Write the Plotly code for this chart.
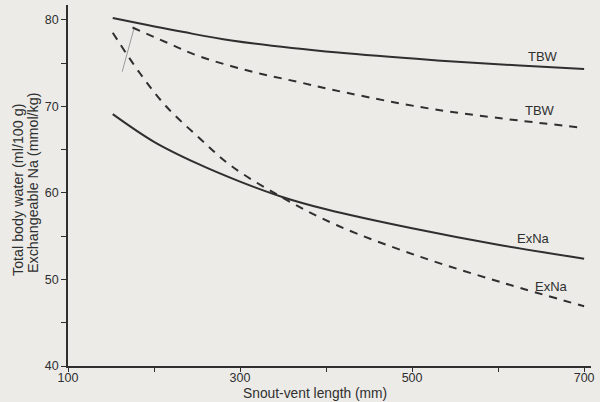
import plotly.graph_objects as go

# Data
tbw_solid_x = [152, 233, 290, 414, 529, 625, 700]
tbw_solid_y = [80.2, 78.6, 77.6, 76.2, 75.3, 74.7, 74.3]

tbw_dash_x = [175, 214, 252, 310, 368, 422, 529, 700]
tbw_dash_y = [79.1, 77.4, 75.8, 74.1, 72.8, 71.6, 69.6, 67.5]

exna_solid_x = [152, 200, 250, 300, 350, 400, 500, 600, 700]
exna_solid_y = [69.1, 65.9, 63.4, 61.3, 59.5, 58.1, 55.9, 54.0, 52.4]

exna_dash_x = [152, 183, 214, 252, 290, 352, 414, 510, 606, 700]
exna_dash_y = [78.5, 73.9, 70.0, 66.4, 63.1, 59.3, 56.2, 52.6, 49.6, 46.9]

mark_x = [163, 177]
mark_y = [74.0, 79.1]

label_text = ["TBW", "TBW", "ExNa", "ExNa"]
label_x = [652, 649, 641, 662]
label_y = [75.7, 69.5, 54.7, 49.2]

y_title_lines = ["Total body water (ml/100 g)", "Exchangeable Na (mmol/kg)"]
x_title = "Snout-vent length (mm)"

x_tickvals = [100, 200, 300, 400, 500, 600, 700]
x_ticktext = ["100", "", "300", "", "500", "", "700"]
y_tickvals = [40, 45, 50, 55, 60, 65, 70, 75, 80]
y_ticktext = ["40", "", "50", "", "60", "", "70", "", "80"]

ink = "#2f2f2f"
font = "Liberation Sans, Arial, sans-serif"

fig = go.Figure()
fig.add_trace(go.Scatter(x=mark_x, y=mark_y, mode="lines",
                         line=dict(color="#9a9a9a", width=1), hoverinfo="skip"))
fig.add_trace(go.Scatter(x=tbw_solid_x, y=tbw_solid_y, mode="lines",
                         line=dict(color=ink, width=2, shape="spline")))
fig.add_trace(go.Scatter(x=tbw_dash_x, y=tbw_dash_y, mode="lines",
                         line=dict(color=ink, width=2, dash="8px,7px", shape="spline")))
fig.add_trace(go.Scatter(x=exna_solid_x, y=exna_solid_y, mode="lines",
                         line=dict(color=ink, width=2, shape="spline")))
fig.add_trace(go.Scatter(x=exna_dash_x, y=exna_dash_y, mode="lines",
                         line=dict(color=ink, width=2, dash="8px,7px", shape="spline")))

for t, x, y in zip(label_text, label_x, label_y):
    fig.add_annotation(x=x, y=y, text=t, showarrow=False,
                       font=dict(family=font, size=13, color=ink))

for txt, xs, yc in zip(y_title_lines, [-50, -35], [0.4875, 0.507]):
    fig.add_annotation(xref="paper", yref="paper", x=0, y=yc, xshift=xs,
                       xanchor="center", yanchor="middle",
                       text=txt, textangle=-90, showarrow=False,
                       font=dict(family=font, size=14.3, color=ink))
fig.add_annotation(xref="paper", yref="paper", x=0.472, y=0, yshift=-27,
                   xanchor="center", yanchor="middle",
                   text=x_title, showarrow=False,
                   font=dict(family=font, size=13.8, color=ink))

fig.update_layout(
    width=600, height=402,
    margin=dict(l=68, r=5, t=5, b=36),
    paper_bgcolor="#ecebe8", plot_bgcolor="#ecebe8",
    showlegend=False,
    font=dict(family=font, color=ink),
)
fig.update_xaxes(range=[100, 708], tickvals=x_tickvals, ticktext=x_ticktext,
                 showgrid=False, zeroline=False, showline=True, linecolor=ink,
                 linewidth=1.5, ticks="outside", ticklen=4, tickcolor=ink,
                 ticklabelstandoff=-5,
                 tickfont=dict(size=12.5, color=ink, family=font))
fig.update_yaxes(range=[40, 81.7], tickvals=y_tickvals, ticktext=y_ticktext,
                 showgrid=False, zeroline=False, showline=True, linecolor=ink,
                 linewidth=1.5, ticks="outside", ticklen=5, tickcolor=ink,
                 tickfont=dict(size=12.5, color=ink, family=font))

fig.write_html("out.html", config={"displayModeBar": False},
               post_script="document.body.style.margin='0';document.body.style.background='#ecebe8';")
